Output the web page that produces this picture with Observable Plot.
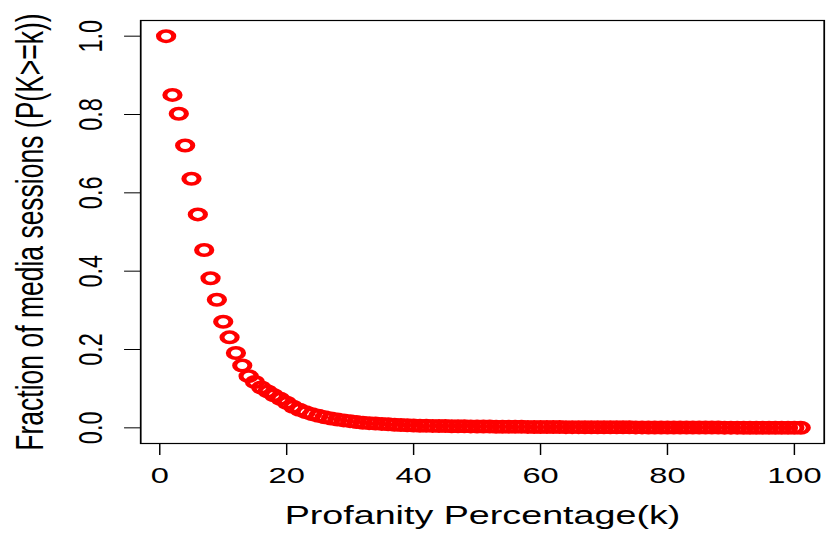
<!DOCTYPE html>
<html>
<head>
<meta charset="utf-8">
<script src="https://cdn.jsdelivr.net/npm/d3@7"></script>
<script src="https://cdn.jsdelivr.net/npm/@observablehq/plot@0.6"></script>
<style>
  html, body { margin: 0; padding: 0; background: #fff; overflow: hidden; }
  #chart { width: 829px; height: 537px; overflow: hidden; }
  /* the chart is drawn on a narrower canvas and widened horizontally */
  #chart svg { display: block; transform: scaleX(1.4493); transform-origin: 0 0; }
</style>
</head>
<body>
<div id="chart"></div>
<script>
// Complementary cumulative distribution P(K >= k) of profanity percentage, k = 1 .. 101
const fractionAtLeast = [
  1.000, 0.850, 0.802, 0.721, 0.636, 0.545, 0.454, 0.382, 0.327, 0.271,
  0.231, 0.191, 0.159, 0.132, 0.117, 0.103, 0.093, 0.083, 0.074, 0.064,
  0.054, 0.046, 0.040, 0.035, 0.031, 0.027, 0.024, 0.021, 0.019, 0.017,
  0.015, 0.013, 0.012, 0.011, 0.010, 0.009, 0.008, 0.007, 0.0065, 0.006,
  0.0055, 0.0052, 0.0049, 0.0046, 0.0044, 0.0042, 0.0040, 0.0038, 0.0036, 0.0034,
  0.0032, 0.0031, 0.0029, 0.0028, 0.0027, 0.0026, 0.0025, 0.0024, 0.0023, 0.0022,
  0.0021, 0.0020, 0.0019, 0.0018, 0.0017, 0.0017, 0.0016, 0.0015, 0.0015, 0.0014,
  0.0013, 0.0013, 0.0012, 0.0012, 0.0011, 0.0011, 0.0010, 0.0010, 0.0009, 0.0009,
  0.0008, 0.0008, 0.0008, 0.0007, 0.0007, 0.0006, 0.0006, 0.0006, 0.0005, 0.0005,
  0.0005, 0.0004, 0.0004, 0.0004, 0.0003, 0.0003, 0.0003, 0.0002, 0.0002, 0.0001,
  0.0001
];
const xTicks = [0, 20, 40, 60, 80, 100];
const yTicks = [0, 0.2, 0.4, 0.6, 0.8, 1.0];
const xTitle = "Profanity Percentage(k)";
const yTitle = "Fraction of media sessions (P(K>=k))";

const points = fractionAtLeast.map((p, i) => ({k: i + 1, p}));

const chart = Plot.plot({
  width: 572,
  height: 537,
  marginLeft: 96.6,
  marginRight: 3.8,
  marginTop: 20,
  marginBottom: 94,
  style: {fontFamily: "'Liberation Sans', Arial, Helvetica, sans-serif", background: "#fff", color: "#000"},
  x: {domain: [-3, 104.7]},
  y: {domain: [-0.04, 1.04]},
  marks: [
    Plot.frame({stroke: "#000", strokeWidth: 1.2}),
    Plot.dot(points, {x: "k", y: "p", r: 5.25, stroke: "#ff0000", strokeWidth: 3.5, fill: "none"}),
    Plot.axisX({ticks: xTicks, tickFormat: d => String(d), tickSize: 12, tickPadding: 12, fontSize: 22.5, label: null}),
    Plot.axisY({ticks: yTicks, tickFormat: d => d.toFixed(1), tickSize: 11, tickPadding: 16, tickRotate: -90, fontSize: 23.5, label: null}),
    Plot.text([xTitle], {frameAnchor: "bottom", textAnchor: "middle", dy: 80, fontSize: 26}),
    Plot.text([yTitle], {frameAnchor: "left", textAnchor: "middle", dx: -76, rotate: -90, fontSize: 26.5})
  ]
});

document.getElementById("chart").appendChild(chart);
</script>
</body>
</html>
